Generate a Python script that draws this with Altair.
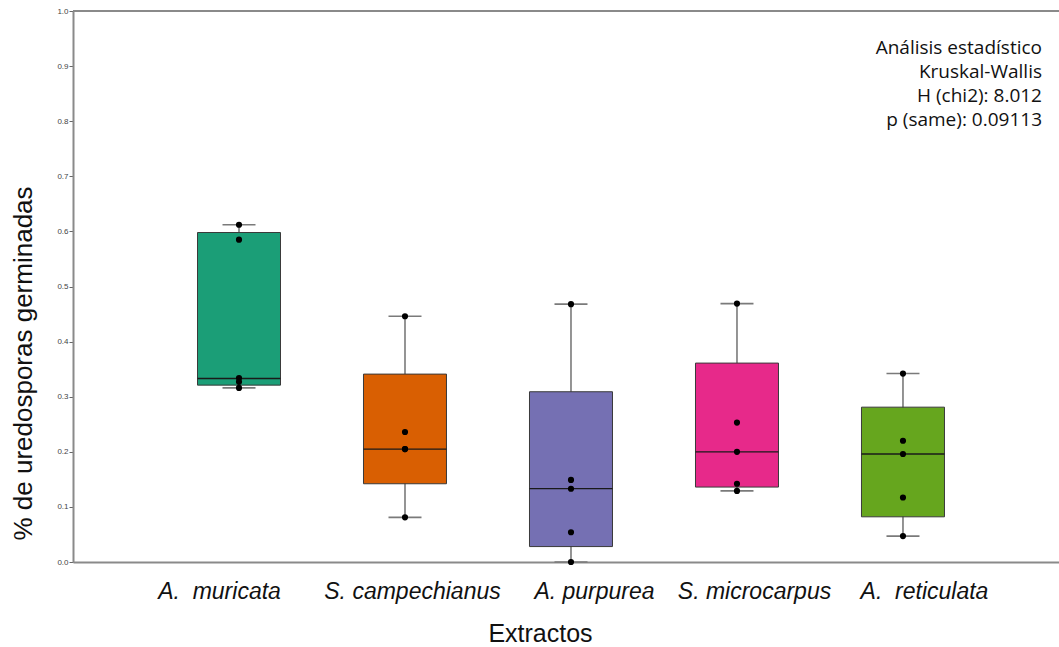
import altair as alt
import pandas as pd

categories = ["A.\u00a0 muricata", "S. campechianus", "A. purpurea", "S. microcarpus", "A.\u00a0 reticulata"]
colors = ["#1b9e77", "#d95f02", "#7570b3", "#e7298a", "#66a61e"]

mins = [0.316, 0.081, 0.000, 0.129, 0.047]
q1s = [0.321, 0.142, 0.028, 0.136, 0.082]
medians = [0.333, 0.205, 0.133, 0.200, 0.196]
q3s = [0.598, 0.341, 0.309, 0.361, 0.281]
maxs = [0.612, 0.446, 0.468, 0.469, 0.342]

pts_muricata = [0.612, 0.585, 0.334, 0.327, 0.316]
pts_campechianus = [0.446, 0.236, 0.205, 0.205, 0.081]
pts_purpurea = [0.468, 0.149, 0.133, 0.054, 0.000]
pts_microcarpus = [0.469, 0.253, 0.200, 0.142, 0.129]
pts_reticulata = [0.342, 0.220, 0.196, 0.117, 0.047]

annotation = ["Análisis estadístico", "Kruskal-Wallis", "H (chi2): 8.012", "p (same): 0.09113"]

# horizontal shift (px) of each category label relative to its box, as in the reference
label_shift = [-20, 7, 23, 17, 21]

W, H = 986, 551

stats = pd.DataFrame({"cat": categories, "min": mins, "q1": q1s, "median": medians,
                      "q3": q3s, "max": maxs})
all_pts = [pts_muricata, pts_campechianus, pts_purpurea, pts_microcarpus, pts_reticulata]
points = pd.DataFrame([{"cat": c, "v": v} for c, vals in zip(categories, all_pts) for v in vals])

xscale = alt.Scale(type="point", domain=categories, padding=0.97, align=0.5155)
yscale = alt.Scale(domain=[0, 1], nice=False, zero=True)

offset_cond = {
    "condition": [{"test": f"datum.value === '{c}'", "value": s} for c, s in zip(categories, label_shift)],
    "value": 0,
}

x_axis = alt.Axis(title="Extractos", domainColor="#8a8a8a", domainWidth=2, ticks=False, tickSize=0,
                  labelFont="Liberation Sans Narrow, Liberation Sans, Arial", labelFontStyle="italic",
                  labelFontSize=23, labelColor="#111111", labelPadding=29, labelBaseline="middle",
                  labelAngle=0, labelOverlap=False, labelOffset=offset_cond,
                  titleFont="Liberation Sans Narrow, Liberation Sans, Arial", titleFontSize=25,
                  titleFontWeight="normal", titleColor="#111111", titleX=467, titleY=71,
                  titleBaseline="middle", titleAlign="center", grid=False)
y_axis = alt.Axis(title="% de uredosporas germinadas", values=[i / 10 for i in range(11)], format=".1f",
                  domainColor="#8a8a8a", domainWidth=2, tickColor="#666666", tickSize=4, tickWidth=1,
                  labelFont="Liberation Sans, Arial", labelFontSize=8, labelColor="#444444",
                  labelPadding=1, grid=False,
                  titleFont="Liberation Sans, Arial", titleFontSize=26, titleFontWeight="normal",
                  titleColor="#111111", titleX=-50, titleY=352, titleBaseline="middle",
                  titleAlign="center", titleAngle=270)

base = alt.Chart(stats)

whisker = base.mark_rule(color="#7a7a7a", strokeWidth=1.6).encode(
    x=alt.X("cat:N", scale=xscale, axis=x_axis, sort=categories),
    y=alt.Y("min:Q", scale=yscale, axis=y_axis),
    y2="max:Q",
)
box = base.mark_bar(size=83, stroke="#3a3a3a", strokeWidth=1).encode(
    x=alt.X("cat:N", sort=categories),
    y="q1:Q",
    y2="q3:Q",
    color=alt.Color("cat:N", scale=alt.Scale(domain=categories, range=colors), legend=None),
)
median = base.mark_tick(size=83, thickness=1.3, color="#1a1a1a", opacity=1).encode(
    x=alt.X("cat:N", sort=categories), y="median:Q")
cap_lo = base.mark_tick(size=33, thickness=1.6, color="#7a7a7a", opacity=1).encode(
    x=alt.X("cat:N", sort=categories), y="min:Q")
cap_hi = base.mark_tick(size=33, thickness=1.6, color="#7a7a7a", opacity=1).encode(
    x=alt.X("cat:N", sort=categories), y="max:Q")
dots = alt.Chart(points).mark_circle(size=38, color="black", opacity=1).encode(
    x=alt.X("cat:N", sort=categories), y="v:Q")

top_border = alt.Chart(pd.DataFrame({"v": [1.0]})).mark_rule(color="#8a8a8a", strokeWidth=2).encode(
    y=alt.Y("v:Q"), x=alt.value(0), x2=alt.value(W))

note = alt.Chart(pd.DataFrame({"k": [0]})).mark_text(
    text=annotation, align="right", baseline="top", lineHeight=24, fontSize=19,
    font="Open Sans, Lato, sans-serif", color="#111111"
).encode(x=alt.value(969), y=alt.value(28))

chart = alt.layer(whisker, box, median, cap_lo, cap_hi, dots, top_border, note).properties(
    width=W, height=H,
    autosize=alt.AutoSizeParams(type="none"),
    padding={"left": 73, "top": 11, "right": 0, "bottom": 85},
).configure_view(stroke=None).configure(background="white")

chart.save("out.html", embed_options={"renderer": "svg", "actions": False})
